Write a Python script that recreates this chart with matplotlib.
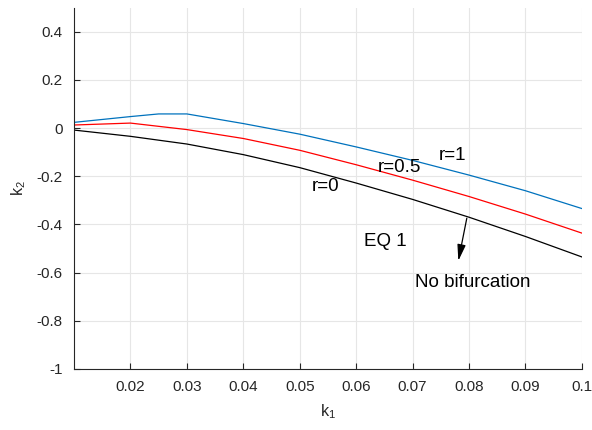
import matplotlib
matplotlib.use("Agg")
import matplotlib.pyplot as plt

plt.rcParams['font.family'] = ['Liberation Sans', 'DejaVu Sans']
plt.rcParams['mathtext.default'] = 'regular'
plt.rcParams['axes.unicode_minus'] = False

# k1 grid and stability boundaries k2(k1) for three values of r
k1 = [0.01, 0.02, 0.03, 0.04, 0.05, 0.06, 0.07, 0.08, 0.09, 0.10]
k1_r1 = [0.01, 0.02, 0.025, 0.03, 0.04, 0.05, 0.06, 0.07, 0.08, 0.09, 0.10]
k2_r1 = [0.024, 0.048, 0.059, 0.059, 0.019, -0.025, -0.078, -0.134, -0.195, -0.260, -0.334]
k2_r05 = [0.013, 0.021, -0.006, -0.043, -0.092, -0.152, -0.216, -0.284, -0.357, -0.436]
k2_r0 = [-0.008, -0.034, -0.066, -0.110, -0.164, -0.228, -0.296, -0.370, -0.450, -0.535]

xticks = [0.02, 0.03, 0.04, 0.05, 0.06, 0.07, 0.08, 0.09, 0.1]
xticklabels = ['0.02', '0.03', '0.04', '0.05', '0.06', '0.07', '0.08', '0.09', '0.1']
yticks = [-1, -0.8, -0.6, -0.4, -0.2, 0, 0.2, 0.4]
yticklabels = ['-1', '-0.8', '-0.6', '-0.4', '-0.2', '0', '0.2', '0.4']

axis_grey = '#262626'

fig = plt.figure(figsize=(5.92, 4.30), dpi=100)
ax = fig.add_axes([0.125, 0.142, 0.858, 0.840])

ax.plot(k1_r1, k2_r1, color='#0072BD', lw=0.9)
ax.plot(k1, k2_r05, color='#FF0000', lw=0.9)
ax.plot(k1, k2_r0, color='black', lw=0.9)

ax.set_xlim(0.01, 0.1)
ax.set_ylim(-1, 0.5)
ax.set_xticks(xticks)
ax.set_xticklabels(xticklabels)
ax.set_yticks(yticks)
ax.set_yticklabels(yticklabels)

ax.grid(True, color='#e6e6e6', lw=0.8)
ax.set_axisbelow(True)
for side in ('top', 'right'):
    ax.spines[side].set_visible(False)
for side in ('left', 'bottom'):
    ax.spines[side].set_color(axis_grey)
    ax.spines[side].set_linewidth(0.8)
ax.tick_params(direction='in', length=4, width=0.8, colors=axis_grey,
               labelsize=11, pad=8)

ax.set_xlabel('k$_1$', fontsize=11.5, color=axis_grey, labelpad=6)
ax.set_ylabel('k$_2$', fontsize=11.5, color=axis_grey, labelpad=6)

# curve labels and region annotation
ax.text(0.0771, -0.115, 'r=1', fontsize=13.5, ha='center', va='center')
ax.text(0.0676, -0.165, 'r=0.5', fontsize=13.5, ha='center', va='center')
ax.text(0.0546, -0.244, 'r=0', fontsize=13.5, ha='center', va='center')
ax.text(0.0651, -0.472, 'EQ 1', fontsize=13.5, ha='center', va='center')
ax.text(0.0807, -0.639, 'No bifurcation', fontsize=13.5, ha='center', va='center')
ax.annotate('', xy=(0.0781, -0.551), xytext=(0.0796, -0.374),
            arrowprops=dict(arrowstyle='-|>,head_length=0.7,head_width=0.18',
                            color='black', lw=0.9, mutation_scale=14,
                            shrinkA=0, shrinkB=0))

fig.savefig('out.png', dpi=100)
